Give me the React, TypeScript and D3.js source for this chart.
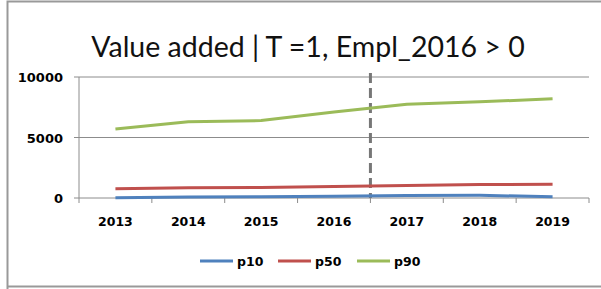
import React from "react";
import * as d3 from "d3";

const years = ["2013", "2014", "2015", "2016", "2017", "2018", "2019"];
const p10 = [30, 80, 110, 150, 210, 220, 110];
const p50 = [760, 840, 860, 950, 1040, 1110, 1130];
const p90 = [5700, 6300, 6400, 7100, 7750, 7950, 8200];
const yTicks = [0, 5000, 10000];
const seriesNames = ["p10", "p50", "p90"];
const seriesColors = ["#4F81BD", "#C0504D", "#9BBB59"];
const markerYear = 2016.5;

export default function App() {
  const W = 601, H = 289;
  const x0 = 79, x1 = 589, yTop = 77, yBot = 198;
  const x = d3.scaleBand().domain(years).range([x0, x1]);
  const y = d3.scaleLinear().domain([0, 10000]).range([yBot, yTop]);
  const all = [p10, p50, p90];
  const line = d3
    .line<number>()
    .x((_, i) => (x(years[i]) as number) + x.bandwidth() / 2)
    .y((d) => y(d));
  const dashX = (x(String(Math.floor(markerYear))) as number) + x.bandwidth();
  const legendX = [200, 278, 357];
  const font = "'DejaVu Sans', Verdana, sans-serif";
  return (
    <svg width={W} height={H} style={{ position: "absolute", left: 0, top: 0 }}>
      <rect x={0} y={0} width={W} height={H} fill="#fff" />
      <path d={`M7.5,${H}V1.5H${W}`} fill="none" stroke="#999" strokeWidth={2} />
      <path d={`M7,286.5H${W}`} fill="none" stroke="#999" strokeWidth={2} />
      <text x={308} y={57} textAnchor="middle" fontFamily="Lato, 'Open Sans', sans-serif" fontSize={28.5} fill="#111">
        Value added | T =1, Empl_2016 &gt; 0
      </text>
      {yTicks.map((t) => (
        <g key={t}>
          {t > 0 && <line x1={x0} x2={x1} y1={y(t)} y2={y(t)} stroke="#8c8c8c" strokeWidth={1} />}
          <line x1={x0 - 5} x2={x0} y1={y(t)} y2={y(t)} stroke="#8c8c8c" />
          <text x={63} y={y(t) + 5} textAnchor="end" fontFamily={font} fontWeight="bold" fontSize={13} fill="#000">
            {t}
          </text>
        </g>
      ))}
      <line x1={x0} x2={x0} y1={yTop} y2={yBot} stroke="#8c8c8c" />
      <line x1={x0} x2={x1} y1={yBot} y2={yBot} stroke="#8c8c8c" />
      {d3.range(years.length + 1).map((i) => {
        const xx = x0 + i * x.step();
        return <line key={i} x1={xx} x2={xx} y1={yBot} y2={yBot + 5} stroke="#8c8c8c" />;
      })}
      {years.map((yr) => (
        <text key={yr} x={(x(yr) as number) + x.bandwidth() / 2} y={226} textAnchor="middle" fontFamily={font} fontWeight="bold" fontSize={12.5} fill="#000">
          {yr}
        </text>
      ))}
      <line x1={dashX} x2={dashX} y1={73} y2={yBot} stroke="#777" strokeWidth={3} strokeDasharray="10,5" />
      {all.map((s, i) => (
        <path key={i} d={line(s) as string} fill="none" stroke={seriesColors[i]} strokeWidth={3} strokeLinejoin="round" />
      ))}
      {seriesNames.map((n, i) => (
        <g key={n}>
          <line x1={legendX[i]} x2={legendX[i] + 33} y1={261} y2={261} stroke={seriesColors[i]} strokeWidth={3} />
          <text x={legendX[i] + 37} y={266} fontFamily={font} fontWeight="bold" fontSize={12.5} fill="#000">
            {n}
          </text>
        </g>
      ))}
    </svg>
  );
}
